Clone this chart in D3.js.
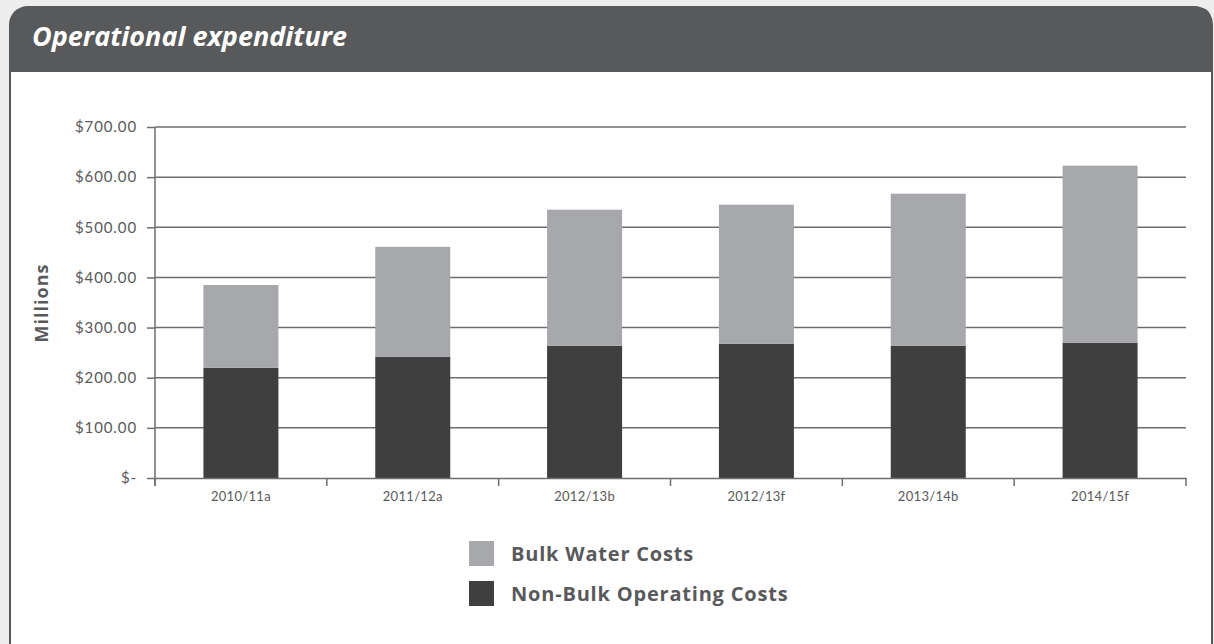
<!DOCTYPE html>
<html>
<head>
<meta charset="utf-8">
<script src="https://cdn.jsdelivr.net/npm/d3@7"></script>
<style>
  body { margin: 0; background: #ededed; }
  svg { display: block; }
</style>
</head>
<body>
<div id="chart"></div>
<script>
var categories = ['2010/11a', '2011/12a', '2012/13b', '2012/13f', '2013/14b', '2014/15f'];
var nonBulk = [220, 242, 264, 268, 264, 270];
var bulkWater = [165, 219, 271, 277, 303, 353];
var yTicks = [0, 100, 200, 300, 400, 500, 600, 700];
var seriesNames = ['Bulk Water Costs', 'Non-Bulk Operating Costs'];
var seriesColors = ['#a7a8ab', '#3f3f3f'];

var width = 1214,
    height = 644,
    plotLeft = 155,
    plotRight = 1186,
    plotTop = 127,
    plotBottom = 478,
    barWidth = 75;

var svg = d3.select('#chart').append('svg')
    .attr('width', width)
    .attr('height', height);

// panel + header
svg.append('rect')
    .attr('x', 10).attr('y', 7)
    .attr('width', 1202).attr('height', 660)
    .attr('rx', 18)
    .style('fill', '#fff')
    .style('stroke', '#58595b')
    .style('stroke-width', 2);

svg.append('path')
    .attr('d', 'M10,72 L10,25 Q10,7 28,7 L1196,7 Q1212,7 1212,23 L1212,72 Z')
    .style('fill', '#58595b');

svg.append('text')
    .attr('x', 32).attr('y', 46)
    .style('font-family', 'Open Sans')
    .style('font-weight', 'bold')
    .style('font-style', 'italic')
    .style('font-size', '27px')
    .style('fill', '#fff')
    .text('Operational expenditure');

var rows = categories.map(function(c, i) {
    return { cat: c, nonBulk: nonBulk[i], bulk: bulkWater[i] };
});
var stack = d3.stack().keys(['nonBulk', 'bulk'])(rows);

var x = d3.scaleBand().domain(categories).range([plotLeft, plotRight]);
var y = d3.scaleLinear().domain([0, 700]).range([plotBottom, plotTop]);

// gridlines
svg.append('g').selectAll('line').data(yTicks.slice(1))
    .enter().append('line')
        .attr('x1', plotLeft).attr('x2', plotRight)
        .attr('y1', function(d) { return y(d); })
        .attr('y2', function(d) { return y(d); })
        .style('stroke', '#6d6e70')
        .style('stroke-width', 1.5);

// bars
var colorByKey = { bulk: seriesColors[0], nonBulk: seriesColors[1] };
svg.append('g').selectAll('g').data(stack)
    .enter().append('g')
        .style('fill', function(s) { return colorByKey[s.key]; })
    .selectAll('rect').data(function(s) { return s; })
    .enter().append('rect')
        .attr('x', function(d) { return x(d.data.cat) + (x.bandwidth() - barWidth) / 2; })
        .attr('width', barWidth)
        .attr('y', function(d) { return y(d[1]); })
        .attr('height', function(d) { return y(d[0]) - y(d[1]); });

// y axis
var yAxis = svg.append('g')
    .attr('transform', 'translate(' + plotLeft + ',0)')
    .call(d3.axisLeft(y).tickValues(yTicks).tickSize(8).tickPadding(10)
        .tickFormat(function(d) { return d === 0 ? '$-' : '$' + d3.format('.2f')(d); }));

// x axis
var xAxis = svg.append('g')
    .attr('transform', 'translate(0,' + plotBottom + ')')
    .call(d3.axisBottom(x).tickSize(0).tickPadding(14));
xAxis.selectAll('.tick').append('line')
    .attr('x1', -x.bandwidth() / 2).attr('x2', -x.bandwidth() / 2)
    .attr('y2', 8);
xAxis.append('line')
    .attr('x1', plotRight).attr('x2', plotRight).attr('y2', 8);

svg.selectAll('.domain').style('stroke', '#6d6e70').style('stroke-width', 1.5);
svg.selectAll('.tick line, g > line').style('stroke', '#6d6e70').style('stroke-width', 1.5);
svg.selectAll('.tick text')
    .style('font-family', 'Lato')
    .style('font-size', '15px')
    .style('letter-spacing', '0.9px')
    .style('fill', '#58595b');
xAxis.selectAll('.tick text').style('letter-spacing', '0.3px').style('font-size', '13px');
yAxis.select('.domain').attr('d', 'M0,' + (plotBottom + 8) + 'V' + plotTop);

svg.append('text')
    .attr('transform', 'translate(48,303) rotate(-90)')
    .attr('text-anchor', 'middle')
    .style('font-family', 'Open Sans')
    .style('font-weight', 'bold')
    .style('font-size', '18px')
    .style('letter-spacing', '1px')
    .style('fill', '#58595b')
    .text('Millions');

// legend
var legend = svg.append('g').selectAll('g').data(seriesNames)
    .enter().append('g')
        .attr('transform', function(d, i) { return 'translate(469,' + (541 + i * 40) + ')'; });
legend.append('rect')
    .attr('width', 25).attr('height', 25)
    .style('fill', function(d, i) { return seriesColors[i]; });
legend.append('text')
    .attr('x', 42).attr('y', 20)
    .style('font-family', 'Open Sans')
    .style('font-weight', 'bold')
    .style('font-size', '20px')
    .style('letter-spacing', '0.8px')
    .style('fill', '#58595b')
    .text(function(d) { return d; });
</script>
</body>
</html>
